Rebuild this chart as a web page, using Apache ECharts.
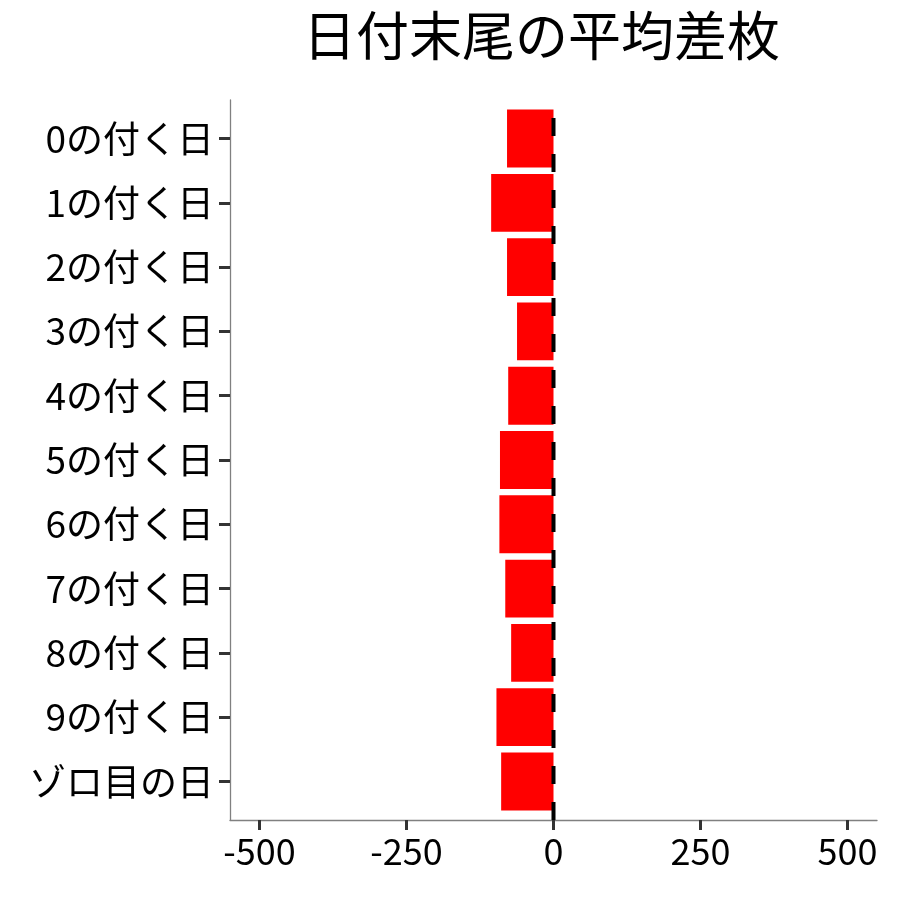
<!DOCTYPE html>
<html>
<head>
<meta charset="utf-8">
<script src="https://cdn.jsdelivr.net/npm/echarts@6/dist/echarts.min.js"></script>
<style>
  html, body { margin: 0; padding: 0; background: #fff; }
  #chart { width: 900px; height: 900px; }
</style>
</head>
<body>
<div id="chart"></div>
<script>
// カテゴリと値（平均差枚）
var categories = ['0の付く日', '1の付く日', '2の付く日', '3の付く日', '4の付く日', '5の付く日',
                  '6の付く日', '7の付く日', '8の付く日', '9の付く日', 'ゾロ目の日'];
var avgDiff = [-79, -106, -79, -62, -77, -91, -92, -82, -72, -97, -89];
var xTicks = [-500, -250, 0, 250, 500];
var zeroLine = [[0, 0], [0, 1]];

var font = '"Noto Sans CJK JP", "Noto Sans", sans-serif';

var chart = echarts.init(document.getElementById('chart'));

var option = {
  backgroundColor: '#ffffff',
  animation: false,
  title: {
    text: '日付末尾の平均差枚',
    left: 298,
    top: 4,
    textStyle: { fontFamily: font, fontSize: 53, fontWeight: 'normal', color: '#000' }
  },
  grid: [
    { left: 230, right: 23, top: 100, bottom: 80 },
    { left: 230, right: 23, top: 106.4, bottom: 86.4 }
  ],
  xAxis: [{
    gridIndex: 0,
    type: 'value',
    min: -550,
    max: 550,
    splitLine: { show: false },
    axisLine: { show: true, onZero: false, lineStyle: { color: '#808080', width: 1.3 } },
    axisTick: { show: true, length: 10, customValues: xTicks, lineStyle: { color: '#333', width: 3 } },
    axisLabel: { customValues: xTicks, fontFamily: font, fontSize: 36, color: '#000', margin: 13 }
  }, {
    gridIndex: 1,
    type: 'value',
    min: -550,
    max: 550,
    show: false
  }],
  yAxis: [{
    gridIndex: 0,
    type: 'value',
    min: 0,
    max: 1,
    splitLine: { show: false },
    axisLine: { show: true, onZero: false, lineStyle: { color: '#808080', width: 1.3 } },
    axisTick: { show: false },
    axisLabel: { show: false }
  }, {
    gridIndex: 1,
    type: 'category',
    data: categories,
    inverse: true,
    axisLine: { show: false, onZero: false },
    axisTick: { show: true, alignWithLabel: true, length: 11, lineStyle: { color: '#333', width: 3 } },
    axisLabel: { fontFamily: font, fontSize: 37, color: '#000', margin: 16 }
  }],
  series: [{
    type: 'bar',
    xAxisIndex: 1,
    yAxisIndex: 1,
    data: avgDiff,
    barWidth: '90%',
    itemStyle: { color: '#ff0000' }
  }, {
    type: 'line',
    xAxisIndex: 0,
    yAxisIndex: 0,
    data: zeroLine,
    symbol: 'none',
    z: 5,
    lineStyle: { color: '#000', width: 4, type: [18, 18] }
  }]
};

chart.setOption(option);
</script>
</body>
</html>
